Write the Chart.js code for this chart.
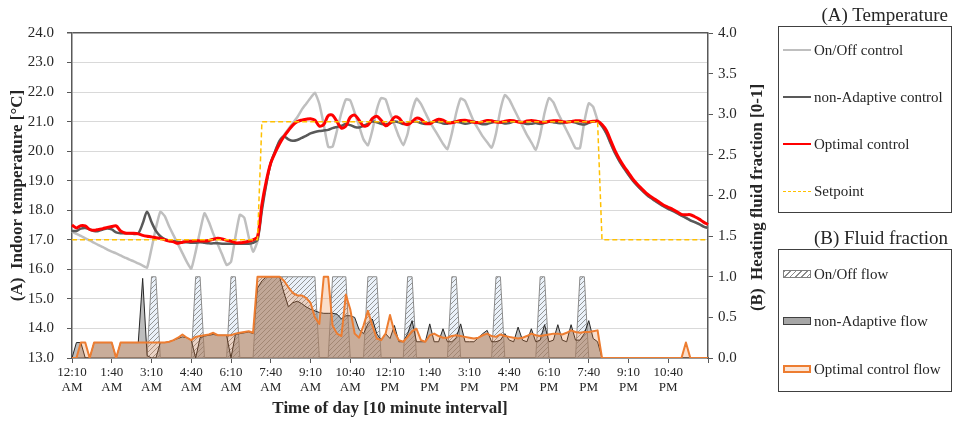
<!DOCTYPE html>
<html>
<head>
<meta charset="utf-8">
<script src="https://cdn.jsdelivr.net/npm/chart.js@4.4.1/dist/chart.umd.min.js"></script>
<style>
  html, body { margin: 0; padding: 0; background: #fff; }
  #wrap { position: relative; width: 958px; height: 422px; font-family: "Liberation Serif", "Times New Roman", serif; color: #262626; }
  canvas { position: absolute; left: 0; top: 0; }
  .ltitle { position: absolute; right: 10px; font-size: 19px; line-height: 22px; white-space: nowrap; }
  .lbox { position: absolute; left: 778px; width: 174px; border: 1.5px solid #404040; box-sizing: border-box; }
  .item { position: absolute; left: 4px; height: 20px; display: flex; align-items: center; font-size: 15px; white-space: nowrap; }
  .sw { width: 28px; margin-right: 3px; box-sizing: border-box; }
</style>
</head>
<body>
<div id="wrap">
  <canvas id="c" width="958" height="422"></canvas>
  <div class="ltitle" style="top:4px">(A) Temperature</div>
  <div class="lbox" style="top:26px;height:187px">
    <div class="item" style="top:13px"><div class="sw" style="height:2.5px;background:#bfbfbf"></div>On/Off control</div>
    <div class="item" style="top:60px"><div class="sw" style="height:2.5px;background:#595959"></div>non-Adaptive control</div>
    <div class="item" style="top:107px"><div class="sw" style="height:2.5px;background:#ff0000"></div>Optimal control</div>
    <div class="item" style="top:154px"><div class="sw" style="height:0;border-top:1.5px dashed #ffc000"></div>Setpoint</div>
  </div>
  <div class="ltitle" style="top:227px">(B) Fluid fraction</div>
  <div class="lbox" style="top:249px;height:143px">
    <div class="item" style="top:14px"><div class="sw" style="height:8px;border:1px solid #808080;background:repeating-linear-gradient(135deg,#8c8c8c 0 1px,#ffffff 1px 4px)"></div>On/Off flow</div>
    <div class="item" style="top:61px"><div class="sw" style="height:8px;border:1.5px solid #404040;background:#a6a6a6"></div>non-Adaptive flow</div>
    <div class="item" style="top:109px"><div class="sw" style="height:8px;border:2px solid #ed7d31;background:#fbe5d6"></div>Optimal control flow</div>
  </div>
</div>
<script>
// ---------- categories (10-minute intervals, 12:10 AM .. 12:10 AM next day) ----------
const categories = [];
for (let k = 0; k < 145; k++) {
  const m = (10 + 10 * k) % 1440;
  const h = Math.floor(m / 60), mm = m % 60;
  const ap = h < 12 ? 'AM' : 'PM';
  let hh = h % 12; if (hh === 0) hh = 12;
  categories.push(hh + ':' + String(mm).padStart(2, '0') + ' ' + ap);
}

// ---------- (A) indoor temperature [°C] ----------
const onOffTemp = [
 17.28,17.2,17.13,17.05,16.98,16.9,16.82,16.75,16.67,16.6,
 16.54,16.47,16.4,16.33,16.27,16.2,16.13,16.06,16.7,17.4,
 17.95,17.8,17.45,17.15,16.85,16.55,16.25,16.02,16.6,17.3,
 17.9,17.6,17.2,16.85,16.5,16.15,16.25,17.1,17.85,17.75,
 17.1,16.6,16.95,18.1,18.9,19.6,20.0,20.35,20.55,20.75,
 20.95,21.15,21.4,21.6,21.8,21.98,21.6,20.9,20.15,20.15,
 20.7,21.3,21.75,21.72,21.3,20.85,20.4,20.2,20.7,21.4,
 21.8,21.75,21.3,20.9,20.5,20.2,20.6,21.35,21.78,21.6,
 21.3,21.0,20.75,20.5,20.25,20.07,20.6,21.3,21.78,21.7,
 21.35,21.0,20.75,20.5,20.3,20.12,20.6,21.4,21.9,21.75,
 21.45,21.15,20.85,20.55,20.3,20.05,20.55,21.3,21.8,21.65,
 21.3,21.0,20.7,20.4,20.1,20.1,21.0,21.62,21.5,21.05,
 20.85,20.6,20.25,19.92,19.65,19.42,19.2,19.0,18.83,18.68,
 18.54,18.42,18.32,18.22,18.13,18.05,17.98,17.9,17.82,17.74,
 17.66,17.6,17.53,17.45,17.4];
const nonAdaptiveTemp = [
 17.3,17.3,17.38,17.4,17.35,17.3,17.3,17.35,17.38,17.35,
 17.25,17.22,17.22,17.22,17.2,17.22,17.55,17.95,17.6,17.3,
 17.12,17.02,16.98,16.95,16.93,16.92,16.92,16.9,16.9,16.92,
 16.9,16.88,16.88,16.88,16.87,16.87,16.87,16.87,16.87,16.87,
 16.87,16.9,17.0,18.0,18.9,19.6,20.0,20.35,20.5,20.4,
 20.35,20.38,20.45,20.52,20.6,20.65,20.68,20.7,20.72,20.78,
 20.82,20.86,20.92,20.88,20.82,20.8,20.86,20.92,21.0,20.98,
 20.93,20.9,20.95,21.0,20.98,20.92,20.93,21.0,21.0,20.95,
 20.92,20.96,21.0,20.99,20.94,20.93,20.98,21.0,20.97,20.93,
 20.95,21.0,20.95,20.91,20.92,20.97,21.0,20.98,20.94,20.95,
 21.0,21.0,20.96,20.92,20.93,20.95,20.92,20.96,21.0,20.98,
 20.95,20.95,20.99,21.0,20.97,20.92,20.9,20.96,21.0,21.02,
 20.85,20.6,20.25,19.92,19.65,19.42,19.2,19.0,18.83,18.68,
 18.54,18.42,18.32,18.22,18.13,18.05,17.98,17.9,17.82,17.74,
 17.66,17.6,17.53,17.45,17.4];
const optimalTemp = [
 17.5,17.4,17.48,17.47,17.35,17.32,17.35,17.38,17.42,17.45,
 17.47,17.3,17.23,17.22,17.22,17.2,17.15,17.12,17.1,17.07,
 17.05,17.0,16.96,16.93,16.88,16.92,16.95,16.95,16.97,16.96,
 16.96,16.98,17.02,17.05,17.03,16.98,16.95,16.9,16.9,16.92,
 16.95,17.0,17.1,18.2,19.0,19.6,19.95,20.25,20.5,20.7,
 20.88,21.0,21.05,21.08,21.1,21.05,20.85,20.9,21.2,21.22,
 21.0,20.78,20.85,21.15,21.22,21.05,20.85,20.88,21.1,21.18,
 21.05,20.86,20.95,21.15,21.12,20.95,20.9,21.0,21.12,21.08,
 20.95,20.93,21.02,21.08,21.05,20.97,20.96,21.0,21.04,21.05,
 21.02,20.98,20.97,21.0,21.04,21.03,20.99,20.98,21.01,21.04,
 21.03,20.99,20.98,21.02,21.04,21.02,20.99,20.98,21.01,21.03,
 21.03,21.0,20.98,21.0,21.03,21.03,21.0,20.99,21.01,21.02,
 20.9,20.7,20.35,20.0,19.72,19.48,19.27,19.05,18.88,18.73,
 18.58,18.47,18.37,18.27,18.17,18.1,18.03,17.95,17.86,17.85,
 17.85,17.78,17.7,17.6,17.52];
const setpoint = [
 17,17,17,17,17,17,17,17,17,17,
 17,17,17,17,17,17,17,17,17,17,
 17,17,17,17,17,17,17,17,17,17,
 17,17,17,17,17,17,17,17,17,17,
 17,17,17,21,21,21,21,21,21,21,
 21,21,21,21,21,21,21,21,21,21,
 21,21,21,21,21,21,21,21,21,21,
 21,21,21,21,21,21,21,21,21,21,
 21,21,21,21,21,21,21,21,21,21,
 21,21,21,21,21,21,21,21,21,21,
 21,21,21,21,21,21,21,21,21,21,
 21,21,21,21,21,21,21,21,21,21,
 17,17,17,17,17,17,17,17,17,17,
 17,17,17,17,17,17,17,17,17,17,
 17,17,17,17,17];

// ---------- (B) heating fluid fraction [0-1] ----------
const onOffFlow = [
 0,0,0,0,0,0,0,0,0,0,
 0,0,0,0,0,0,0,0,1,1,
 0,0,0,0,0,0,0,0,1,1,
 0,0,0,0,0,0,1,1,0,0,
 0,0,1,1,1,1,1,1,1,1,
 1,1,1,1,1,1,0,0,0,1,
 1,1,1,0,0,0,0,1,1,1,
 0,0,0,0,0,0,1,1,0,0,
 0,0,0,0,0,0,1,1,0,0,
 0,0,0,0,0,0,1,1,0,0,
 0,0,0,0,0,0,1,1,0,0,
 0,0,0,0,0,1,1,0,0,0,
 0,0,0,0,0,0,0,0,0,0,
 0,0,0,0,0,0,0,0,0,0,
 0,0,0,0,0];
const nonAdaptiveFlow = [
 0,0.19,0.19,0,0,0.19,0.19,0.19,0.19,0.19,
 0,0.19,0.19,0.19,0.19,0.19,0.98,0.03,0,0,
 0.19,0.19,0.2,0.22,0.24,0.26,0.25,0.22,0,0.25,
 0.27,0.28,0.29,0.28,0.28,0.28,0,0.29,0.3,0.31,
 0.32,0.3,0.86,0.95,1,1,1,1,0.8,0.63,
 0.68,0.7,0.67,0.63,0.6,0.58,0.56,0.55,0.55,0.55,
 0.54,0.48,0.52,0.52,0.5,0.35,0.3,0.42,0.48,0.3,
 0.22,0.3,0.24,0.4,0.2,0.2,0.3,0.46,0.2,0.2,
 0.2,0.42,0.2,0.2,0.36,0.2,0.2,0.25,0.42,0.2,
 0.2,0.2,0.25,0.3,0.34,0.2,0.2,0.22,0.3,0.22,
 0.2,0.38,0.22,0.2,0.36,0.2,0.22,0.41,0.2,0.22,
 0.41,0.22,0.2,0.41,0.22,0.22,0.3,0.46,0.24,0.2,
 0,0,0,0,0,0,0,0,0,0,
 0,0,0,0,0,0,0,0,0,0,
 0,0,0,0,0];
const optimalFlow = [
 0,0,0.19,0.19,0,0.19,0.19,0.19,0.19,0.19,
 0,0.19,0.19,0.19,0.19,0.19,0.19,0.19,0.19,0.19,
 0.19,0.19,0.2,0.22,0.25,0.29,0.25,0.22,0.26,0.27,
 0.28,0.29,0.31,0.28,0.28,0.28,0.28,0.3,0.31,0.32,
 0.33,0.31,1,1,1,1,1,1,0.95,0.87,
 0.8,0.77,0.77,0.74,0.68,0.5,0.42,1,1,0.4,
 0.3,0.27,0.78,0.6,0.3,0.25,0.4,0.58,0.4,0.24,
 0.22,0.3,0.53,0.32,0.22,0.2,0.26,0.33,0.36,0.22,
 0.2,0.28,0.3,0.27,0.25,0.25,0.27,0.28,0.27,0.26,
 0.25,0.24,0.25,0.28,0.3,0.27,0.26,0.29,0.27,0.26,
 0.25,0.24,0.25,0.27,0.3,0.28,0.27,0.28,0.29,0.3,
 0.3,0.29,0.31,0.34,0.32,0.31,0.32,0.32,0.33,0.34,
 0,0,0,0,0,0,0,0,0,0,
 0,0,0,0,0,0,0,0,0,0.19,
 0,0,0,0,0];

// ---------- axis ticks ----------
const tempTicks = [13,14,15,16,17,18,19,20,21,22,23,24];
const fracTicks = [0,0.5,1,1.5,2,2.5,3,3.5,4];
const xLabelEvery = 9;

function makeHatch() {
  const c = document.createElement('canvas');
  c.width = 5; c.height = 5;
  const g = c.getContext('2d');
  g.fillStyle = 'rgba(214,228,243,0.5)';
  g.fillRect(0, 0, 5, 5);
  g.strokeStyle = '#8a8a8a';
  g.lineWidth = 0.9;
  g.beginPath();
  g.moveTo(0, 5); g.lineTo(5, 0);
  g.moveTo(-1, 1); g.lineTo(1, -1);
  g.moveTo(4, 6); g.lineTo(6, 4);
  g.stroke();
  return g.createPattern(c, 'repeat');
}

const FONT = '"Liberation Serif", "Times New Roman", serif';
const TXT = '#262626';
const AXIS = '#595959';

const rightTitle = {
  id: 'rightTitle',
  afterDraw(chart) {
    const a = chart.chartArea, ctx = chart.ctx;
    ctx.save();
    ctx.translate(758, (a.top + a.bottom) / 2 + 2);
    ctx.rotate(-Math.PI / 2);
    ctx.font = 'bold 17px ' + FONT;
    ctx.fillStyle = TXT;
    ctx.textAlign = 'center';
    ctx.textBaseline = 'middle';
    ctx.fillText('(B)  Heating fluid fraction [0-1]', 0, 0);
    ctx.restore();
  }
};

new Chart(document.getElementById('c'), {
  type: 'line',
  data: {
    labels: categories,
    datasets: [
      { label: 'Setpoint', data: setpoint, yAxisID: 'y', borderColor: '#ffc000', borderWidth: 1.5, borderDash: [5, 3], fill: false, order: 1, tension: 0 },
      { label: 'Optimal control', data: optimalTemp, yAxisID: 'y', borderColor: '#ff0000', borderWidth: 3, fill: false, order: 2, tension: 0.3 },
      { label: 'non-Adaptive control', data: nonAdaptiveTemp, yAxisID: 'y', borderColor: '#595959', borderWidth: 2.5, fill: false, order: 3, tension: 0.3 },
      { label: 'On/Off control', data: onOffTemp, yAxisID: 'y', borderColor: '#bfbfbf', borderWidth: 2.5, fill: false, order: 4, tension: 0.15 },
      { label: 'Optimal control flow', data: optimalFlow, yAxisID: 'y1', borderColor: '#ed7d31', borderWidth: 2, backgroundColor: 'rgba(237,125,49,0.25)', fill: 'origin', order: 5, tension: 0 },
      { label: 'non-Adaptive flow', data: nonAdaptiveFlow, yAxisID: 'y1', borderColor: '#262626', borderWidth: 1, backgroundColor: 'rgba(128,128,128,0.52)', fill: 'origin', order: 6, tension: 0 },
      { label: 'On/Off flow', data: onOffFlow, yAxisID: 'y1', borderColor: '#8c8c8c', borderWidth: 1, backgroundColor: makeHatch(), fill: 'origin', order: 7, tension: 0 }
    ]
  },
  options: {
    responsive: false,
    animation: false,
    layout: { padding: { top: 33, right: 188, left: 0, bottom: 0 } },
    elements: { point: { radius: 0 }, line: { borderJoinStyle: 'round' } },
    plugins: { legend: { display: false }, tooltip: { enabled: false } },
    scales: {
      x: {
        type: 'category',
        offset: false,
        afterFit(s) { s.height = 64; },
        border: { display: true, color: AXIS, width: 1.5 },
        grid: {
          drawOnChartArea: false, drawTicks: true, tickLength: 5,
          tickColor: (c) => (c.index % xLabelEvery === 0 ? AXIS : 'rgba(0,0,0,0)')
        },
        ticks: {
          autoSkip: false, maxRotation: 0, minRotation: 0, padding: 2,
          color: TXT, font: { family: FONT, size: 13, lineHeight: 1.15 },
          callback: (v, i) => (i % xLabelEvery === 0 && i < categories.length - 1) ? categories[i].split(' ') : ''
        },
        title: {
          display: true, text: 'Time of day [10 minute interval]', color: TXT,
          font: { family: FONT, size: 17, weight: 'bold', lineHeight: 1.2 },
          padding: { top: 0, bottom: 3 }
        }
      },
      y: {
        position: 'left',
        min: tempTicks[0], max: tempTicks[tempTicks.length - 1],
        afterFit(s) { s.width = 72; },
        afterBuildTicks(s) { s.ticks = tempTicks.map(v => ({ value: v })); },
        border: { display: true, color: AXIS, width: 1.5 },
        grid: {
          color: (c) => (c.tick && c.tick.value === 24 ? AXIS : '#d9d9d9'),
          lineWidth: (c) => (c.tick && c.tick.value === 24 ? 1.5 : 1),
          tickColor: AXIS, tickLength: 5
        },
        ticks: {
          padding: 13, color: TXT, font: { family: FONT, size: 15 },
          callback: (v) => Number(v).toFixed(1)
        },
        title: {
          display: true, text: '(A)  Indoor temperature [°C]', color: TXT,
          font: { family: FONT, size: 17, weight: 'bold', lineHeight: 1.2 },
          padding: { top: 7, bottom: 0 }
        }
      },
      y1: {
        position: 'right',
        min: fracTicks[0], max: fracTicks[fracTicks.length - 1],
        afterFit(s) { s.width = 62; },
        afterBuildTicks(s) { s.ticks = fracTicks.map(v => ({ value: v })); },
        border: { display: true, color: AXIS, width: 1.5 },
        grid: { drawOnChartArea: false, tickColor: AXIS, tickLength: 5 },
        ticks: {
          padding: 5, color: TXT, font: { family: FONT, size: 15 },
          callback: (v) => Number(v).toFixed(1)
        }
      }
    }
  },
  plugins: [rightTitle]
});
</script>
</body>
</html>
